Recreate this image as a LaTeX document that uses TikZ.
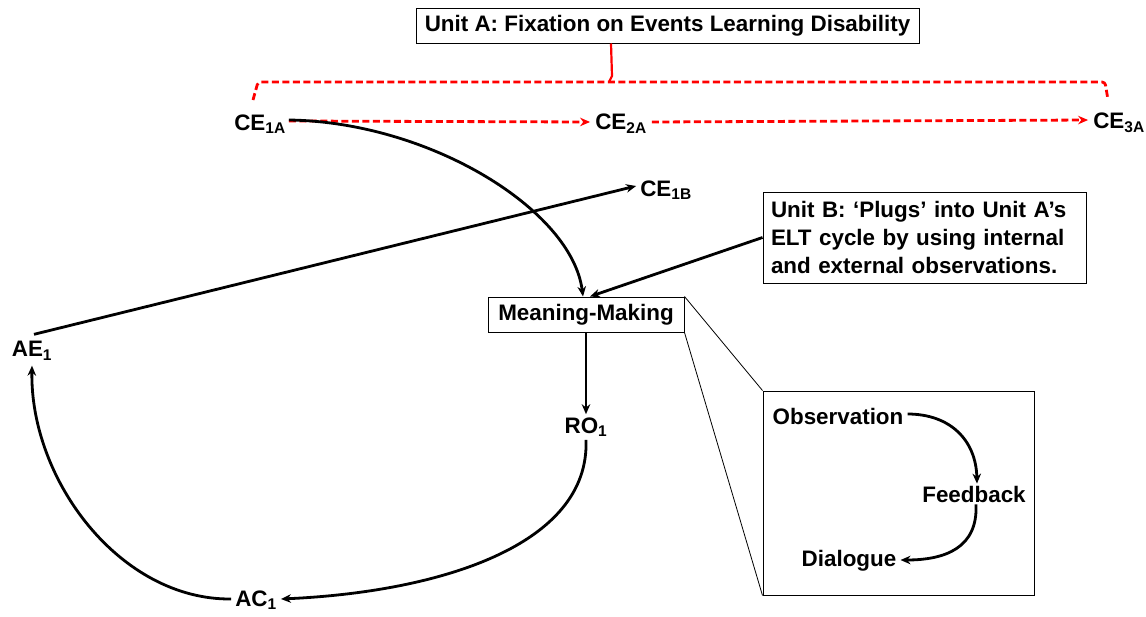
\documentclass[tikz,border=0pt]{standalone}
\usepackage{fontspec}
\setmainfont{Liberation Sans}
\usetikzlibrary{arrows.meta}
\newcommand{\lbl}[2]{#1\textsubscript{\fontsize{15.5}{15.5}\selectfont #2}}
\begin{document}
\begin{tikzpicture}[x=1pt,y=-1pt,
  every node/.style={font=\fontsize{22.4}{27}\selectfont\bfseries, inner sep=2pt},
  framed/.style={draw, line width=1pt, inner sep=0pt},
  flow/.style={line width=2.8pt, -{Stealth[length=10pt,width=8.5pt]}},
  redflow/.style={red, line width=2.8pt, dash pattern=on 7pt off 3.5pt, -{Stealth[length=10pt,width=8.5pt]}},
  thin/.style={line width=0.8pt}]
\useasboundingbox (0,0) rectangle (1146,616);

% unit boxes
\node[framed, minimum width=503pt, minimum height=35pt] (unitA) at (667.5,25.5) {Unit A: Fixation on Events Learning Disability};
\node[framed, minimum width=323pt, minimum height=91pt, align=left, text width=307pt, font=\fontsize{22.4}{28}\selectfont\bfseries] (unitB) at (924.5,237.5)
  {Unit B: `Plugs' into Unit A's\\ELT cycle by using internal\\and external observations.};
\node[framed, minimum width=196pt, minimum height=35pt] (mm) at (586,314.5) {Meaning-Making};
\node[framed, minimum width=271pt, minimum height=204pt] (detail) at (898.5,493) {};

% cycle labels
\node (ce1a) at (260,124) {\lbl{CE}{1A}};
\node (ce2a) at (621,124) {\lbl{CE}{2A}};
\node (ce3a) at (1119,123) {\lbl{CE}{3A}};
\node (ce1b) at (666,190) {\lbl{CE}{1B}};
\node (ae1) at (32,351) {\lbl{AE}{1}};
\node (ro1) at (586,427) {\lbl{RO}{1}};
\node (ac1) at (256,600) {\lbl{AC}{1}};

% detail labels
\node (obs) at (838,416) {Observation};
\node (fb) at (974,494) {Feedback};
\node (dia) at (849,561) {Dialogue};

% red bracket from Unit A
\coordinate (bl) at (253,100);
\coordinate (br) at (1108,100);
\draw[red, line width=2.8pt, dash pattern=on 7pt off 3.5pt, rounded corners=3pt]
  (bl) -- (258,82) -- (1105,82) -- (br);
\draw[red, line width=2.2pt] (unitA.south -| 611,0) -- (612,76) -- (609,82);

% red fixation arrows
\draw[redflow] ([xshift=1pt,yshift=3pt]ce1a.east) -- ([xshift=-3pt,yshift=2pt]ce2a.west);
\draw[redflow] ([xshift=3pt,yshift=2pt]ce2a.east) -- ([xshift=-3pt,yshift=3pt]ce3a.west);

% main connectors
\draw[flow] ([xshift=1pt,yshift=4pt]ce1a.east) .. controls (430,122) and (572,210) .. ([xshift=-3pt]mm.north);
\draw[flow] (unitB.west) -- ([xshift=4pt]mm.north);
\draw[flow] ([xshift=2pt,yshift=5pt]ae1.north) -- ([xshift=-2pt,yshift=4pt]ce1b.west);
\draw[flow] (mm.south) -- ([yshift=1pt]ro1.north);
\draw[flow] ([yshift=-1pt]ro1.south) .. controls (590,545) and (440,592) .. ([xshift=2pt,yshift=1pt]ac1.east);
\draw[flow] ([xshift=-2pt,yshift=1pt]ac1.west) .. controls (120,600) and (30,480) .. ([yshift=-3pt]ae1.south);

% zoom lines to the detail box
\draw[thin] (mm.north east) -- (detail.north west);
\draw[thin] (mm.south east) -- (detail.south west);

% detail connectors
\draw[flow] ([xshift=2pt,yshift=2pt]obs.east) .. controls (950,414) and (976,440) .. ([xshift=3pt]fb.north);
\draw[flow] ([xshift=2pt]fb.south) .. controls (978,548) and (945,560) .. ([xshift=2pt,yshift=1pt]dia.east);
\end{tikzpicture}
\end{document}
